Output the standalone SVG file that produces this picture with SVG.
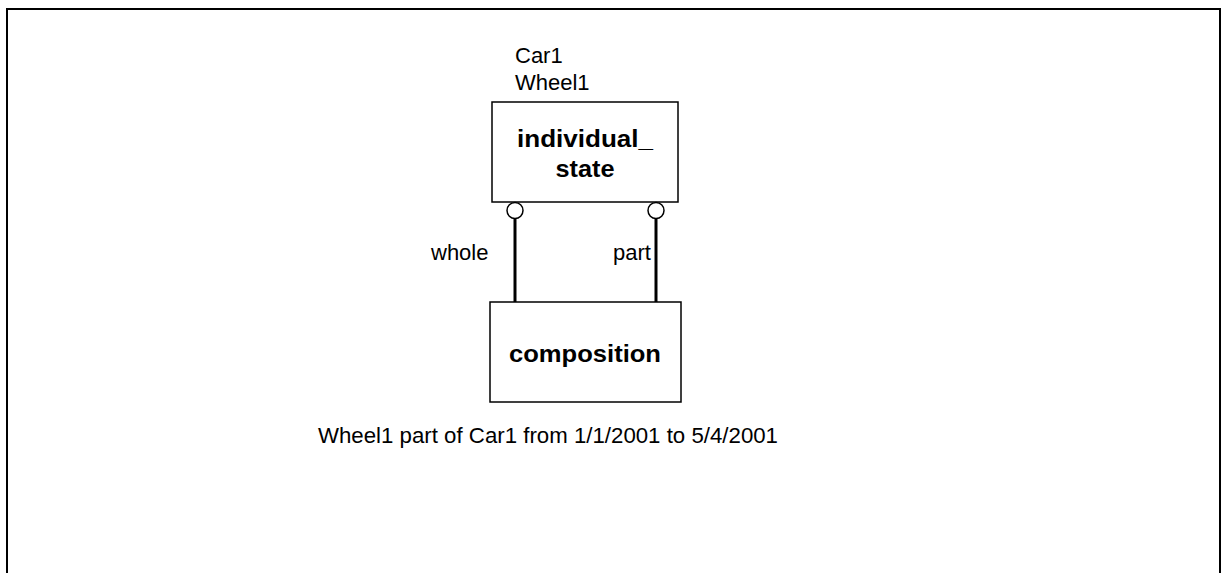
<svg xmlns="http://www.w3.org/2000/svg" width="1221" height="573" viewBox="0 0 1221 573">
  <style>
    .frame { fill: none; stroke: #000; stroke-width: 2; }
    .box { fill: #fff; stroke: #000; stroke-width: 1.5; }
    .title { font-family: "Liberation Sans", Arial, sans-serif; font-weight: bold; font-size: 24px; fill: #000; text-anchor: middle; }
    .label { font-family: "Liberation Sans", Arial, sans-serif; font-size: 22px; fill: #000; }
    .link { stroke: #000; stroke-width: 3; fill: none; }
    .end { fill: #fff; stroke: #000; stroke-width: 1.5; }
  </style>
  <rect width="1221" height="573" fill="#fff"/>
  <rect class="frame" x="7" y="9" width="1213" height="580"/>

  <g id="individual_state">
    <text class="label" x="515" y="63">Car1</text>
    <text class="label" x="515" y="90">Wheel1</text>
    <rect class="box" x="492" y="102" width="186" height="100"/>
    <text class="title" x="585" y="147" textLength="136" lengthAdjust="spacingAndGlyphs">individual_</text>
    <text class="title" x="585" y="177" textLength="59" lengthAdjust="spacingAndGlyphs">state</text>
  </g>

  <g id="composition">
    <rect class="box" x="490" y="302" width="191" height="100"/>
    <text class="title" x="585" y="362" textLength="152" lengthAdjust="spacingAndGlyphs">composition</text>
    <text class="label" x="318" y="443" textLength="460" lengthAdjust="spacingAndGlyphs">Wheel1 part of Car1 from 1/1/2001 to 5/4/2001</text>
  </g>

  <g id="connectors">
    <line class="link" x1="515" y1="218" x2="515" y2="302"/>
    <circle class="end" cx="515" cy="210.5" r="8"/>
    <text class="label" x="431" y="260">whole</text>
    <line class="link" x1="656" y1="218" x2="656" y2="302"/>
    <circle class="end" cx="656" cy="210.5" r="8"/>
    <text class="label" x="613" y="260">part</text>
  </g>
</svg>
